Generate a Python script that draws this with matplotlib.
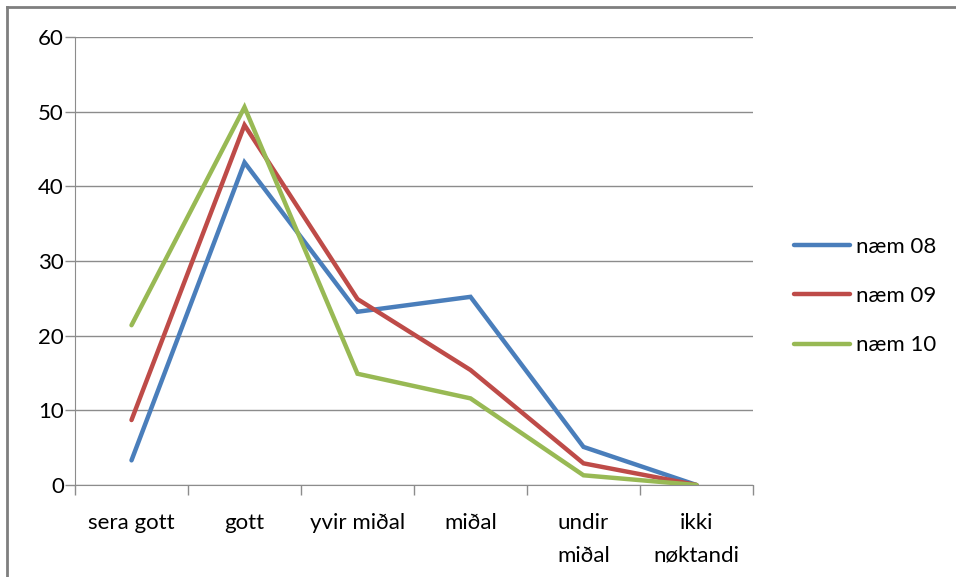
import numpy as np
import matplotlib.pyplot as plt
from matplotlib.lines import Line2D

# ----------------------------
# Dados
# ----------------------------
categorias = ['sera gott', 'gott', 'yvir miðal', 'miðal', 'undir\nmiðal', 'ikki\nnøktandi']
naem_08 = [3.3, 43.2, 23.2, 25.2, 5.1, 0.0]
naem_09 = [8.7, 48.2, 24.9, 15.4, 2.9, 0.0]
naem_10 = [21.4, 50.6, 14.9, 11.6, 1.3, 0.0]
series = ['næm 08', 'næm 09', 'næm 10']
cores = ['#4A7EBB', '#BE4B48', '#98B954']

plt.rcParams['font.family'] = ['Lato', 'DejaVu Sans']
fs = 16

W, H = 956, 577
fig = plt.figure(figsize=(W / 100, H / 100), dpi=100)
ax = fig.add_axes([75 / W, 1 - 485 / H, (753 - 75) / W, (485 - 37) / H])

x = np.arange(len(categorias))
for vals, nome, cor in zip([naem_08, naem_09, naem_10], series, cores):
    ax.plot(x, vals, color=cor, linewidth=3.2, label=nome, solid_capstyle='round',
            solid_joinstyle='miter')

# Eixos
ax.set_xlim(-0.5, len(categorias) - 0.5)
ax.set_ylim(0, 60)
ax.set_yticks(np.arange(0, 61, 10))
ax.yaxis.grid(True, color='#8C8C8C', linewidth=1)
ax.set_axisbelow(True)

ax.set_xticks(x)
ax.set_xticklabels(categorias, fontsize=fs, linespacing=1.8)
ax.set_xticks(np.arange(-0.5, len(categorias), 1), minor=True)
ax.tick_params(axis='x', which='major', length=0, pad=20)
ax.tick_params(axis='x', which='minor', length=7, color='#8C8C8C', width=1)
ax.tick_params(axis='y', length=7, color='#8C8C8C', width=1, labelsize=fs, pad=1)

for s in ['top', 'right']:
    ax.spines[s].set_visible(False)
ax.spines['left'].set_color('#8C8C8C')
ax.spines['bottom'].set_color('#8C8C8C')

# Legenda
leg = ax.legend(loc='center left', bbox_to_anchor=(774 / W, 1 - 296 / H),
                bbox_transform=fig.transFigure, frameon=False, fontsize=fs,
                handlelength=2.5, handletextpad=0.3, labelspacing=1.32)

# Moldura do gráfico (apenas topo e esquerda visíveis)
fig.add_artist(Line2D([7 / W, 7 / W], [0, 1 - 7 / H], transform=fig.transFigure,
                      color='#7F7F7F', linewidth=2))
fig.add_artist(Line2D([7 / W, 1], [1 - 7 / H, 1 - 7 / H], transform=fig.transFigure,
                      color='#7F7F7F', linewidth=2))

fig.savefig('out.png', dpi=100)
